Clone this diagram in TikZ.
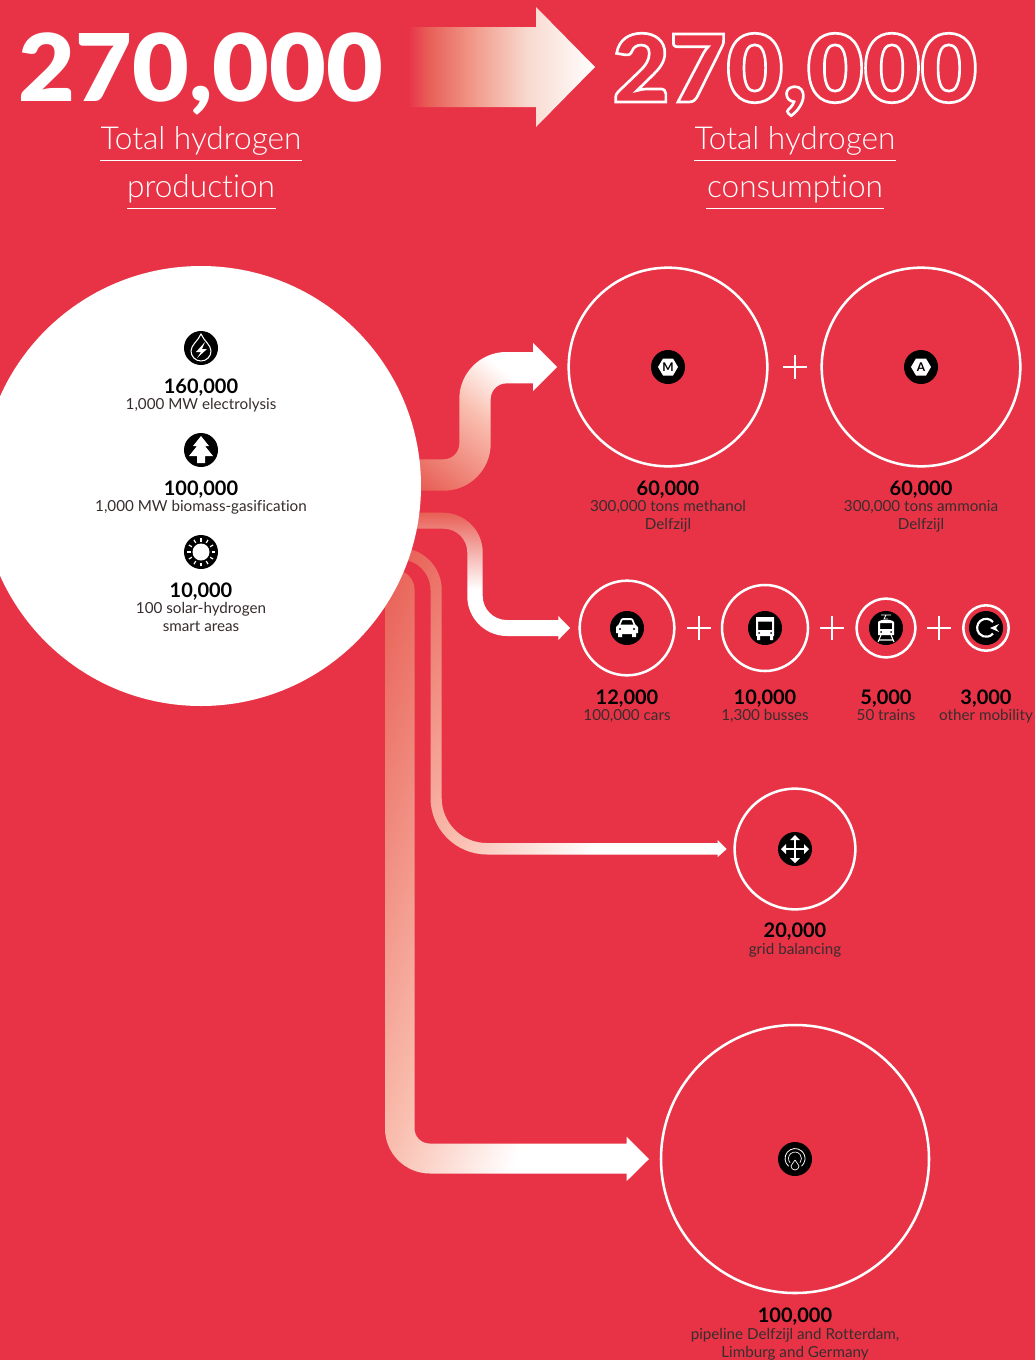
\documentclass[tikz,border=0pt]{standalone}
\usepackage{fontspec}
\setmainfont{Lato}[Ligatures=NoCommon]
\newfontfamily\lightf{Lato Light}[Ligatures=NoCommon]
\newfontfamily\bigf{Lato Black}[FakeStretch=1.05]
\newfontfamily\numf{Lato Bold}
\usetikzlibrary{calc}
\definecolor{bgred}{RGB}{232,51,71}
\definecolor{fade}{RGB}{232,95,85}
\definecolor{peach}{RGB}{249,190,175}
\definecolor{txtgrey}{RGB}{55,45,45}
\definecolor{h1}{RGB}{232,95,88}
\definecolor{h2}{RGB}{241,155,140}
\definecolor{h3}{RGB}{248,217,207}
\pgfdeclarehorizontalshading{gHead}{100bp}{color(0bp)=(bgred);color(25bp)=(bgred);color(30.6bp)=(h1);color(42.9bp)=(h2);color(57bp)=(h3);color(75bp)=(white);color(100bp)=(white)}
\pgfdeclarehorizontalshading{gFlow}{100bp}{color(0bp)=(fade);color(41.67bp)=(fade);color(52.33bp)=(peach);color(58.33bp)=(white);color(100bp)=(white)}
\pgfdeclareverticalshading{gB}{100bp}{color(0bp)=(white);color(25bp)=(white);color(45bp)=(white);color(75bp)=(fade);color(100bp)=(fade)}
\tikzset{
 x=0.75pt,y=-0.75pt,
 ringc/.style={draw=white,line width=1.9pt,fill=none,circle,inner sep=0pt},
 iconbg/.style={fill=black,circle,inner sep=0pt,minimum size=25.5pt},
 plus/.style={draw=white,line width=1.9pt},
 numb/.style={font=\numf\fontsize{15}{18}\selectfont,text=black,inner sep=0pt,anchor=center},
 desc/.style={font=\fontsize{11.4}{13.4}\selectfont,text=txtgrey,inner sep=0pt,align=center,anchor=north},
 big/.style={font=\bigf\fontsize{70}{70}\selectfont,text=white,inner sep=0pt},
 sub/.style={font=\lightf\fontsize{23.7}{26}\selectfont,text=white,inner sep=0pt},
 ule/.style={draw=white,line width=1.1pt},
 icoline/.style={draw=white,line width=0.8pt,fill=none},
}
\newcommand{\plusat}[2]{\draw[plus] (#1-12,#2) -- (#1+12,#2) (#1,#2-12) -- (#1,#2+12);}
% gradient fill of a path: from t=0 at (#3,#4) to t=1 at (#5,#6)
\newcommand{\gradfill}[6]{%
 \pgfmathsetmacro\gAng{atan2(-(#6-#4),#5-#3)}%
 \pgfmathsetmacro\gLen{veclen(#5-#3,#6-#4)}%
 \pgfmathsetmacro\gCx{(#3+#5)/2}%
 \pgfmathsetmacro\gCy{(#4+#6)/2}%
 \begin{scope}
 \clip #1;
 \shade[shading=#2,transform canvas={rotate around={\gAng:(\gCx,\gCy)}}] (\gCx-1.5*\gLen,\gCy-1800) rectangle (\gCx+1.5*\gLen,\gCy+1800);
 \end{scope}}
\begin{document}
\begin{tikzpicture}
\useasboundingbox[fill=bgred] (0,0) rectangle (1035,1360);
% heading
\node[big] (prod) at (201,74) {270,000};
\node[big] (cons) at (795,74.5) {\special{pdf:code q 1 Tr 2 w 1 1 1 RG}270,000\special{pdf:code Q}};
\node[sub] (t1) at (201,141) {Total hydrogen};
\node[sub] (t2) at (201,189) {production};
\node[sub] (t3) at (795,141) {Total hydrogen};
\node[sub] (t4) at (795,189) {consumption};
\draw[ule] (100,160.5) -- (302,160.5);
\draw[ule] (127,208.5) -- (276,208.5);
\draw[ule] (694,160.5) -- (896,160.5);
\draw[ule] (706,208.5) -- (884,208.5);
\shade[shading=gHead] (408,27) -- (536,27) -- (536,7) -- (595,67) -- (536,127) -- (536,107) -- (408,107) -- cycle;
% flow arrows
\gradfill{(385,570) -- (395,570) arc (-90:0:19.5) -- (414.5,1128.5) arc (180:90:15) -- (626.7,1143.7) -- (626.7,1136.7) -- (649,1159) -- (626.7,1181) -- (626.7,1173.5) -- (430,1173.5) arc (90:180:45) -- cycle}{gFlow}{385}{570}{696}{689}
\gradfill{(400,548) arc (-90:0:41.7) -- (441.7,798) arc (180:90:45) -- (717.7,843) -- (717.7,840) -- (726.7,849) -- (717.7,857) -- (717.7,854.5) -- (487,854.5) arc (90:180:56.5) -- (430.5,590) arc (0:-90:30.5) -- cycle}{gFlow}{400}{549}{673}{735}
\shade[shading=gB] (415,512.7) -- (443,512.7) arc (-90:0:39.7) -- (482.7,596) arc (180:90:24) -- (558.3,620) -- (558.3,616) -- (570,628) -- (558.3,640) -- (558.3,636) -- (507,636) arc (90:180:39.7) -- (467.3,552.4) arc (0:-90:23.7) -- (415,528.7) -- cycle;
\gradfill{(415,459.3) -- (443.7,459.3) arc (90:0:15.6) -- (459.3,399) arc (180:270:47) -- (533,352) -- (533,343) -- (557,367) -- (533,391) -- (533,383.4) -- (506.3,383.4) arc (-90:-180:15.6) -- (490.7,443.7) arc (0:90:47) -- (415,490.7) -- cycle}{gFlow}{425}{490}{515}{380}
% source circle
\node[fill=white,circle,inner sep=0pt,minimum size=330pt] (src) at (201,486) {};
% rings
\node[ringc,minimum size=149pt] (met) at (668,367) {};
\node[ringc,minimum size=149pt] (amm) at (921,367) {};
\node[ringc,minimum size=71pt] (car) at (627,628) {};
\node[ringc,minimum size=64.5pt] (bus) at (765,628) {};
\node[ringc,minimum size=44pt] (trn) at (886,628) {};
\node[ringc,minimum size=34pt] (oth) at (986,628) {};
\node[ringc,minimum size=90.5pt] (grd) at (795,849) {};
\node[ringc,minimum size=201pt] (pip) at (795,1159) {};
\plusat{795}{367}
\plusat{699}{628}
\plusat{832}{628}
\plusat{939}{628}
% icon discs
\foreach \n/\p in {i1/{201,348},i2/{201,450},i3/{201,552},i4/{668,367},i5/{921,367},i6/{627,628},i7/{765,628},i8/{886,628},i9/{986,628},i10/{795,849},i11/{795,1159}}
  \node[iconbg] (\n) at (\p) {};
% drop
\draw[icoline,line width=0.8pt] (201,334) .. controls (204,341) and (211,345) .. (211,351) arc (0:180:10) .. controls (191,345) and (198,341) .. (201,334) -- cycle;
\fill[white] (205,342) -- (196,352) -- (201,352) -- (197,358) -- (207,349) -- (202,349) -- cycle;
% tree
\fill[white] (201,436) -- (209,446) -- (205,446) -- (213,456) -- (205,456) -- (205,463) -- (197,463) -- (197,456) -- (189,456) -- (197,446) -- (193,446) -- cycle;
% sun
\fill[white] (201,552) circle (8.5);
\foreach \a in {0,30,...,330} \draw[white,line width=0.9pt] ($(201,552)+(\a:10.5)$) -- ($(201,552)+(\a:14)$);
% M / A
\fill[white] (658,367) -- (663,358.5) -- (673,358.5) -- (678,367) -- (673,375.5) -- (663,375.5) -- cycle;
\node[inner sep=0pt,font=\numf\fontsize{9}{9}\selectfont] (mm) at (668,367) {M};
\fill[white] (911,367) -- (916,358.5) -- (926,358.5) -- (931,367) -- (926,375.5) -- (916,375.5) -- cycle;
\node[inner sep=0pt,font=\numf\fontsize{9}{9}\selectfont] (aa) at (921,367) {A};
% car
\fill[white,even odd rule] (616,633) -- (616,627) -- (619,624) -- (621,619) -- (623,618) -- (631,618) -- (633,619) -- (635,624) -- (638,627) -- (638,633) -- (636,633) -- (636,637) -- (632,637) -- (632,634) -- (622,634) -- (622,637) -- (618,637) -- (618,633) -- cycle (620.5,624.5) -- (633.5,624.5) -- (631.5,620) -- (622.5,620) -- cycle;
\fill[black] (620,629) circle (1.2) (634,629) circle (1.2);
% bus
\fill[white,even odd rule] (756,617) rectangle (774,636) (758,621.5) rectangle (772,630);
\fill[white] (757,635) rectangle (760,640) (770,635) rectangle (773,640);
\fill[black] (759,633) circle (1) (771,633) circle (1);
% train
\draw[white,line width=0.6pt] (881,615) -- (891,615) (886,615) -- (884,619) -- (888,619);
\fill[white,even odd rule] (878,622) .. controls (880,619) and (892,619) .. (894,622) -- (894,635) -- (878,635) -- cycle (880,623) rectangle (892,629);
\fill[black] (881,632) circle (1) (891,632) circle (1);
\draw[white,line width=0.8pt] (881,635) -- (878,642) (891,635) -- (894,642) (879,640) -- (893,640);
% circular arrow
\draw[white,line width=1.6pt] (993,622) arc (-40:-320:9);
\fill[white] (990,628) -- (999,624) -- (996,628) -- (999,632) -- cycle;
% move arrows
\draw[white,line width=1.8pt] (784,849) -- (806,849) (795,838) -- (795,860);
\fill[white] (781,849) -- (786,844) -- (786,854) -- cycle (809,849) -- (804,844) -- (804,854) -- cycle (795,835) -- (790,840) -- (800,840) -- cycle (795,863) -- (790,858) -- (800,858) -- cycle;
% pipe
\draw[white,line width=0.6pt] (788.6,1166.2) arc (130:410:10);
\draw[white,line width=0.5pt] (790,1162.7) arc (140:400:6.5);
\draw[white,line width=0.5pt] (795,1160) .. controls (796,1163) and (799,1164) .. (799,1166) arc (0:180:4) .. controls (791,1164) and (794,1163) .. (795,1160);
% labels
\node[numb] (n1) at (201,387.5) {160,000};
\node[desc] (d1) at (201,398.5) {1,000 MW electrolysis};
\node[numb] (n2) at (201,489.5) {100,000};
\node[desc] (d2) at (201,500.5) {1,000 MW biomass-gasification};
\node[numb] (n3) at (201,591.5) {10,000};
\node[desc] (d3) at (201,602.5) {100 solar-hydrogen\\smart areas};
\node[numb] (n4) at (668,489.5) {60,000};
\node[desc] (d4) at (668,500.5) {300,000 tons methanol\\Delfzijl};
\node[numb] (n5) at (921,489.5) {60,000};
\node[desc] (d5) at (921,500.5) {300,000 tons ammonia\\Delfzijl};
\node[numb] (n6) at (627,698.5) {12,000};
\node[desc] (d6) at (627,709) {100,000 cars};
\node[numb] (n7) at (765,698.5) {10,000};
\node[desc] (d7) at (765,709) {1,300 busses};
\node[numb] (n8) at (886,698.5) {5,000};
\node[desc] (d8) at (886,709) {50 trains};
\node[numb] (n9) at (986,698.5) {3,000};
\node[desc] (d9) at (986,709) {other mobility};
\node[numb] (n10) at (795,931.5) {20,000};
\node[desc] (d10) at (795,943) {grid balancing};
\node[numb] (n11) at (795,1316.5) {100,000};
\node[desc] (d11) at (795,1328) {pipeline Delfzijl and Rotterdam,\\Limburg and Germany};
\end{tikzpicture}
\end{document}
